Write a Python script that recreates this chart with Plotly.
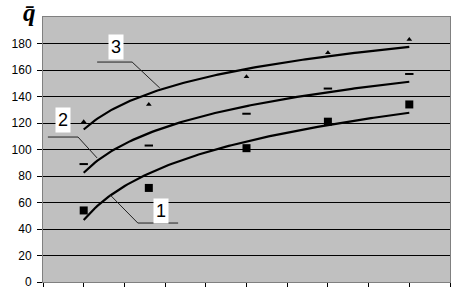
import numpy as np
import plotly.graph_objects as go

# Data
x_vals = [1, 2.6, 5, 7, 9]
series1 = [54, 71, 101, 121, 134]
series2 = [89, 103, 127, 146, 157]
series3 = [121, 134, 155, 173, 183]
y_ticks = [0, 20, 40, 60, 80, 100, 120, 140, 160, 180]
curve_labels = ["1", "2", "3"]

def log_trend(x, y):
    lx = np.log(np.array(x, dtype=float))
    b, a = np.polyfit(lx, np.array(y, dtype=float), 1)
    xs = np.linspace(min(x), max(x), 120)
    return xs, a + b * np.log(xs)

fig = go.Figure()

marker_styles = [
    dict(symbol="square", size=8, color="black"),
    dict(symbol="line-ew", size=6, color="black", line=dict(width=2, color="black")),
    dict(symbol="triangle-up", size=5, color="black"),
]

for ys, ms in zip([series1, series2, series3], marker_styles):
    fig.add_trace(go.Scatter(x=x_vals, y=ys, mode="markers", marker=ms,
                             showlegend=False, hoverinfo="skip"))
    tx, ty = log_trend(x_vals, ys)
    fig.add_trace(go.Scatter(x=tx, y=ty, mode="lines",
                             line=dict(color="black", width=2.2),
                             showlegend=False, hoverinfo="skip"))

# leader lines (data coordinates)
leaders = [
    [(1.65, 65.7), (2.33, 44.5), (3.32, 44.5)],
    [(0.12, 109.4), (0.86, 109.4), (1.33, 93.6)],
    [(1.33, 166), (2.19, 166), (2.87, 146.4)],
]
for pts in leaders:
    for (x0, y0), (x1, y1) in zip(pts[:-1], pts[1:]):
        fig.add_shape(type="line", x0=x0, y0=y0, x1=x1, y1=y1, xref="x", yref="y",
                      line=dict(color="#222222", width=1))

label_pos = [(2.90, 53.6), (0.48, 122.3), (1.79, 177.4)]
for lab, (lx, ly) in zip(curve_labels, label_pos):
    fig.add_annotation(x=lx, y=ly, xref="x", yref="y", text=lab, showarrow=False,
                       font=dict(family="Liberation Sans, Arial", size=18, color="black"),
                       bgcolor="white", borderpad=2)

fig.add_annotation(x=-0.013, y=1.075, xref="paper", yref="paper", xanchor="right",
                   yanchor="top", text="<b><i>q̄</i></b>", showarrow=False,
                   font=dict(family="Liberation Serif, Times New Roman", size=25, color="black"))

fig.update_layout(
    width=470, height=292,
    margin=dict(l=43, r=20, t=17, b=10),
    paper_bgcolor="white",
    plot_bgcolor="#c0c0c0",
    font=dict(family="Liberation Sans, Arial", size=12, color="black"),
)
fig.update_xaxes(range=[0, 10], tickmode="linear", tick0=0, dtick=1, automargin=False,
                 showticklabels=False, ticks="outside", ticklen=4, tickcolor="black",
                 showgrid=False, zeroline=False, showline=True, linecolor="#808080",
                 linewidth=1, mirror=True)
fig.update_yaxes(range=[0, 200], tickvals=y_ticks, ticks="outside", ticklen=5,
                 automargin=False,
                 tickcolor="black", showgrid=True, gridcolor="black", gridwidth=1,
                 zeroline=False, showline=True, linecolor="#808080", linewidth=1,
                 mirror=True, ticklabelstandoff=3)

fig.write_html("out.html", config={"displayModeBar": False},
               post_script="document.body.style.margin='0';")
